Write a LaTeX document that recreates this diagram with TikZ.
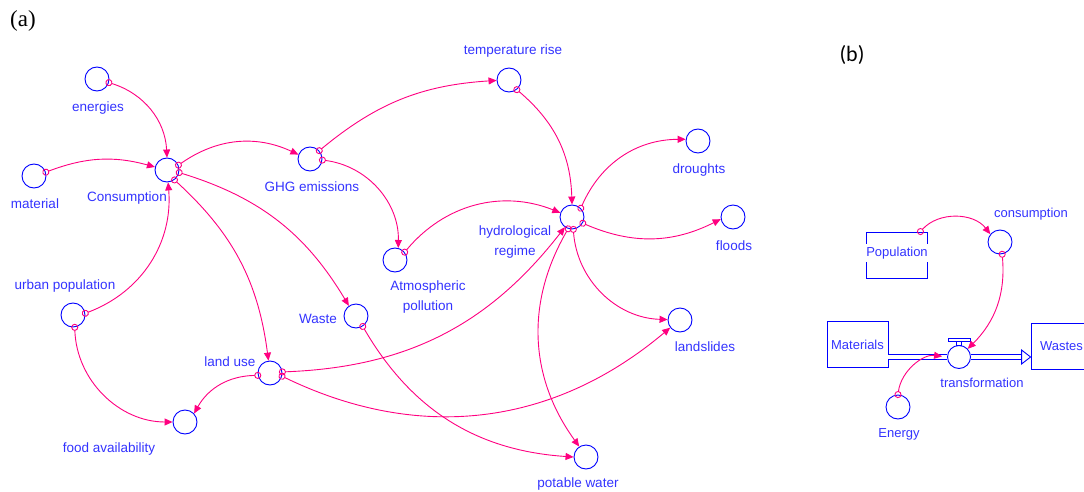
\documentclass[tikz,border=0pt]{standalone}
\usepackage{fontspec}
\setmainfont{Liberation Sans}
\newfontfamily\tagfont{Liberation Serif}
\newfontfamily\tagfontb{Carlito}
\usetikzlibrary{arrows.meta,calc}
\definecolor{vs-blue}{RGB}{0,0,255}
\definecolor{vs-text}{RGB}{51,51,255}
\definecolor{vs-link}{RGB}{255,0,128}

\begin{document}
\begin{tikzpicture}[x=1pt,y=1pt,
    var/.style={draw=vs-blue, circle, minimum size=24pt, inner sep=0pt, line width=0.9pt, fill=white},
    lbl/.style={text=vs-text, font=\fontsize{13.5}{19.5}\selectfont, inner sep=0pt, align=center},
    lblb/.style={lbl, font=\fontsize{13}{16}\selectfont},
    stock/.style={draw=vs-blue, rectangle, minimum width=61pt, minimum height=46pt, line width=0.9pt, text=vs-text, font=\fontsize{13}{16}\selectfont},
    link/.style={draw=vs-link, line width=0.9pt, shorten <=-3.5pt, {Circle[open,length=7pt]}-{Triangle[length=8pt,width=7pt]}},
    pipe/.style={draw=vs-blue, line width=1pt, double=white, double distance=3.6pt}]
    \useasboundingbox (0,0) rectangle (1084,-492);
    \clip (0,0) rectangle (1084,-492);

    \node[font=\tagfont\fontsize{23}{26}\selectfont] (tagA) at (23,-21) {(a)};
    \node[font=\tagfontb\fontsize{22}{26}\selectfont] (tagB) at (852,-55) {(b)};

    % panel (a)
    \node[var] (energies) at (97,-79) {};
    \node[var] (material) at (34,-176) {};
    \node[var] (cons) at (167,-170) {};
    \node[var] (ghg) at (310,-159) {};
    \node[var] (temp) at (509,-80) {};
    \node[var] (atmos) at (395,-260) {};
    \node[var] (hydro) at (572,-217) {};
    \node[var] (droughts) at (698,-141) {};
    \node[var] (floods) at (733,-217) {};
    \node[var] (landslides) at (680,-320) {};
    \node[var] (waste) at (356,-316) {};
    \node[var] (urban) at (73,-315) {};
    \node[var] (landuse) at (270,-373) {};
    \node[var] (food) at (185,-422) {};
    \node[var] (potable) at (586,-457) {};

    \node[lbl] (energiesL) at (98,-108) {energies};
    \node[lbl] (materialL) at (35,-204) {material};
    \node[lbl] (consL) at (127,-198) {Consumption};
    \node[lbl] (ghgL) at (312,-187) {GHG emissions};
    \node[lbl] (tempL) at (513,-51) {temperature rise};
    \node[lbl] (atmosL) at (428,-297) {Atmospheric\\pollution};
    \node[lbl] (hydroL) at (515,-242) {hydrological\\regime};
    \node[lbl] (droughtsL) at (699,-170) {droughts};
    \node[lbl] (floodsL) at (734,-246) {floods};
    \node[lbl] (landslidesL) at (705,-347) {landslides};
    \node[lbl] (wasteL) at (318,-319) {Waste};
    \node[lbl] (urbanL) at (65,-286) {urban population};
    \node[lbl] (landuseL) at (230,-362) {land use};
    \node[lbl] (foodL) at (109,-449) {food availability};
    \node[lbl] (potableL) at (578,-484) {potable water};

    \draw[link] (energies.-17) to[bend left=35] (cons.90);
    \draw[link] (material.18) to[bend left=18] (cons.166);
    \draw[link] (cons.23) to[bend left=30] (ghg.159);
    \draw[link] (ghg.42) to[bend left=18] (temp.182);
    \draw[link] (ghg.-5) to[bend left=42] (atmos.75);
    \draw[link] (temp.-51) to[bend left=24] (hydro.90);
    \draw[link] (atmos.39) to[bend left=36] (hydro.160);
    \draw[link] (hydro.45) to[bend left=33] (droughts.172);
    \draw[link] (hydro.-30) to[bend right=25] (floods.190);
    \draw[link] (hydro.-84) to[bend right=42] (landslides.178);
    \draw[link] (hydro.-108) to[bend right=33] (potable.123);
    \draw[link] (cons.-53) to[bend left=20] (landuse.97);
    \draw[link] (cons.-12) to[bend left=21] (waste.125);
    \draw[link] (urban.8) to[bend right=37] (cons.-85);
    \draw[link] (urban.-82) to[bend right=44] (food.180);
    \draw[link] (landuse.191) to[bend right=30] (food.43);
    \draw[link] (landuse.5) to[bend right=25] (hydro.-125);
    \draw[link] (landuse.-15) to[bend right=33] (landslides.218);
    \draw[link] (waste.-57) to[bend right=28] (potable.180);

    % panel (b)
    \node[stock] (pop) at (897,-255) {};
    \node[lblb, fill=white, inner ysep=3pt, inner xsep=1pt] (popL) at (897,-253) {Population};
    \node[var] (consum) at (1000,-242) {};
    \node[lblb] (consumL) at (1031,-214) {consumption};
    \node[stock] (materials) at (857.5,-344.5) {Materials};
    \node[stock] (wastes) at (1061.5,-346) {Wastes};
    \node[var, minimum size=23pt] (trans) at (959,-357) {};
    \node[lblb] (transL) at (982,-383) {transformation};
    \node[var] (energy) at (898,-407) {};
    \node[lblb] (energyL) at (899,-434) {Energy};

    \draw[pipe] (trans.west -| materials.east) -- (trans.west);
    \draw[pipe, shorten >=9pt] (trans.east) -- (trans.east -| wastes.west);
    \draw[draw=vs-blue, fill=white, line width=0.9pt] (trans.east -| wastes.west) -- ++(-9pt,7pt) -- ++(0,-14pt) -- cycle;
    \draw[draw=vs-blue, fill=white, line width=0.9pt] ($(trans.north)+(-2.5pt,0)$) rectangle ($(trans.north)+(2.5pt,3.5pt)$);
    \draw[draw=vs-blue, fill=white, line width=0.9pt] ($(trans.north)+(-11pt,3.5pt)$) rectangle ($(trans.north)+(11pt,7pt)$);

    \draw[link] (pop.45) to[bend left=50] (consum.141);
    \draw[link] (consum.-80) to[bend left=25] (trans.43);
    \draw[link, shorten >=5pt] (energy.90) to[bend left=45] (trans.180);
\end{tikzpicture}
\end{document}
